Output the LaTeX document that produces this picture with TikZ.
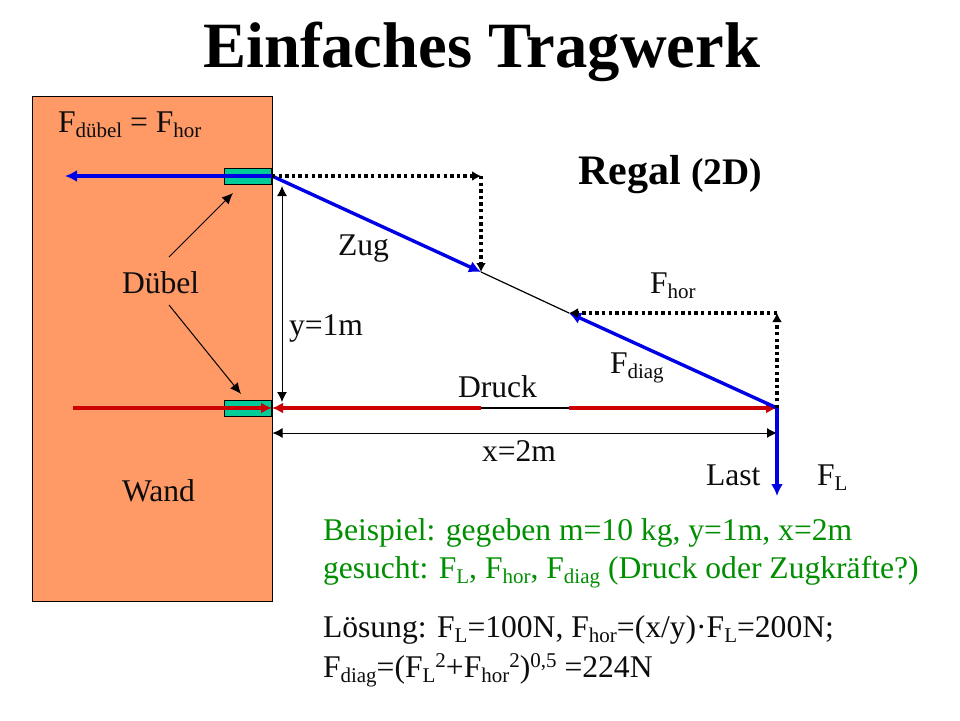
\documentclass[tikz,border=0pt]{standalone}
\usepackage{fontspec}
\setmainfont{Liberation Serif}
\usetikzlibrary{arrows.meta}
\newcommand{\lowtxt}[1]{\raisebox{-5pt}{\fontsize{21}{21}\selectfont #1}}
\newcommand{\hightxt}[1]{\raisebox{10pt}{\fontsize{21}{21}\selectfont #1}}
\definecolor{wallc}{HTML}{FF9966}
\definecolor{dubc}{HTML}{00CC99}
\definecolor{blueF}{HTML}{0000E6}
\definecolor{redF}{HTML}{CC0000}
\definecolor{greenT}{HTML}{008F00}
\tikzset{
 x=1pt,y=-1pt,
 lab/.style={anchor=base west,inner sep=0pt,outer sep=0pt,font=\fontsize{31.6}{32}\selectfont,text=black!95},
 greenlab/.style={lab,text=greenT},
 wallbox/.style={draw=black,line width=0.9pt,fill=wallc},
 dubbox/.style={draw=black,line width=1pt,fill=dubc},
 thin arrow/.style={draw=black,line width=1pt,-{Latex[length=11pt,width=10pt]}},
 dim arrow/.style={draw=black,line width=1pt,{Latex[length=10pt,width=10pt]}-{Latex[length=10pt,width=10pt]}},
 bluef/.style={draw=blueF,line width=3.4pt,-{Latex[length=12pt,width=12pt]}},
 redf/.style={draw=redF,line width=3.4pt,-{Latex[length=11pt,width=11pt]}},
 dots/.style={draw=black,line width=3.6pt,dash pattern=on 3.4pt off 3.2pt,-{Latex[length=9pt,width=10pt]}},
 plainline/.style={draw=black,line width=1.2pt},
}
\begin{document}
\begin{tikzpicture}
\useasboundingbox (0,0) rectangle (960,720);
\fill[white] (0,0) rectangle (960,720);
% geometry
\node[wallbox,minimum width=240pt,minimum height=505pt,inner sep=0pt,anchor=north west] (wall) at (32,96) {};
\node[dubbox,minimum width=47.5pt,minimum height=16pt,inner sep=0pt,anchor=east] (dub1) at (272,176.5) {};
\node[dubbox,minimum width=47.5pt,minimum height=16pt,inner sep=0pt,anchor=east] (dub2) at (272,408) {};
\coordinate (A) at (272,176);
\coordinate (B) at (272,408);
\coordinate (Last) at (777,408);
\coordinate (LastEnd) at (777,496);
\coordinate (Fleft) at (65,176);
\coordinate (Rleft) at (73,408);
\coordinate (Z1) at (481,272);
\coordinate (Z2) at (569,313);
\coordinate (C1) at (481,176);
\coordinate (C2) at (777,313);
\coordinate (D1) at (481,408);
\coordinate (D2) at (569,408);
% labels
\node[font=\fontsize{64.6}{66}\selectfont\bfseries,anchor=base west,inner sep=0pt,text=black] (title) at (203,67) {Einfaches Tragwerk};
\node[lab] (fdub) at (58,132) {F\lowtxt{dübel} = F\lowtxt{hor}};
\node[anchor=base west,inner sep=0pt,font=\bfseries\fontsize{42}{42}\selectfont] (regal) at (578,184) {Regal {\fontsize{37.5}{37.5}\selectfont (2D)}};
\node[lab] (zug) at (338,255) {Zug};
\node[lab] (dubel) at (122,293) {Dübel};
\node[lab] (fhor) at (650,293) {F\lowtxt{hor}};
\node[lab] (y1) at (289,335) {y=1m};
\node[lab] (fdiag) at (610,373) {F\lowtxt{diag}};
\node[lab] (druck) at (458,397) {Druck};
\node[lab] (x2) at (482,461) {x=2m};
\node[lab] (last) at (706,485) {Last};
\node[lab] (fl) at (817,485) {F\lowtxt{L}};
\node[lab] (wand) at (122,501) {Wand};
\node[greenlab] (g1) at (323,540) {Beispiel: gegeben m=10 kg, y=1m, x=2m};
\node[greenlab] (g2) at (323,578) {gesucht: F\lowtxt{L}, F\lowtxt{hor}, F\lowtxt{diag} (Druck oder Zugkräfte?)};
\node[lab] (l1) at (323,637) {Lösung: F\lowtxt{L}=100N, F\lowtxt{hor}=(x/y)·F\lowtxt{L}=200N;};
\node[lab] (l2) at (323,677) {F\lowtxt{diag}=(F\lowtxt{L}\hightxt{2}+F\lowtxt{hor}\hightxt{2})\hightxt{0,5} =224N};
% connectors
\draw[thin arrow] (169,257) -- (233,193);
\draw[thin arrow] (169,305) -- (241,394);
\draw[dim arrow] (282,402) -- (282,186);
\draw[dim arrow] (272.5,433) -- (777,433);
\draw[plainline] (Z1) -- (Z2);
\draw[plainline] (D1) -- (D2);
\draw[redf] (Rleft) -- (B);
\draw[redf] (D1) -- (B);
\draw[redf] (D2) -- (Last);
\draw[bluef] (A) -- (Fleft);
\draw[bluef] (A) -- (Z1);
\draw[bluef] (Last) -- (Z2);
\draw[bluef] (Last) -- (LastEnd);
\draw[dots] (A) -- (C1);
\draw[dots] (C1) -- (Z1);
\draw[dots] (C2) -- (Z2);
\draw[dots] (Last) -- (C2);
\end{tikzpicture}
\end{document}
